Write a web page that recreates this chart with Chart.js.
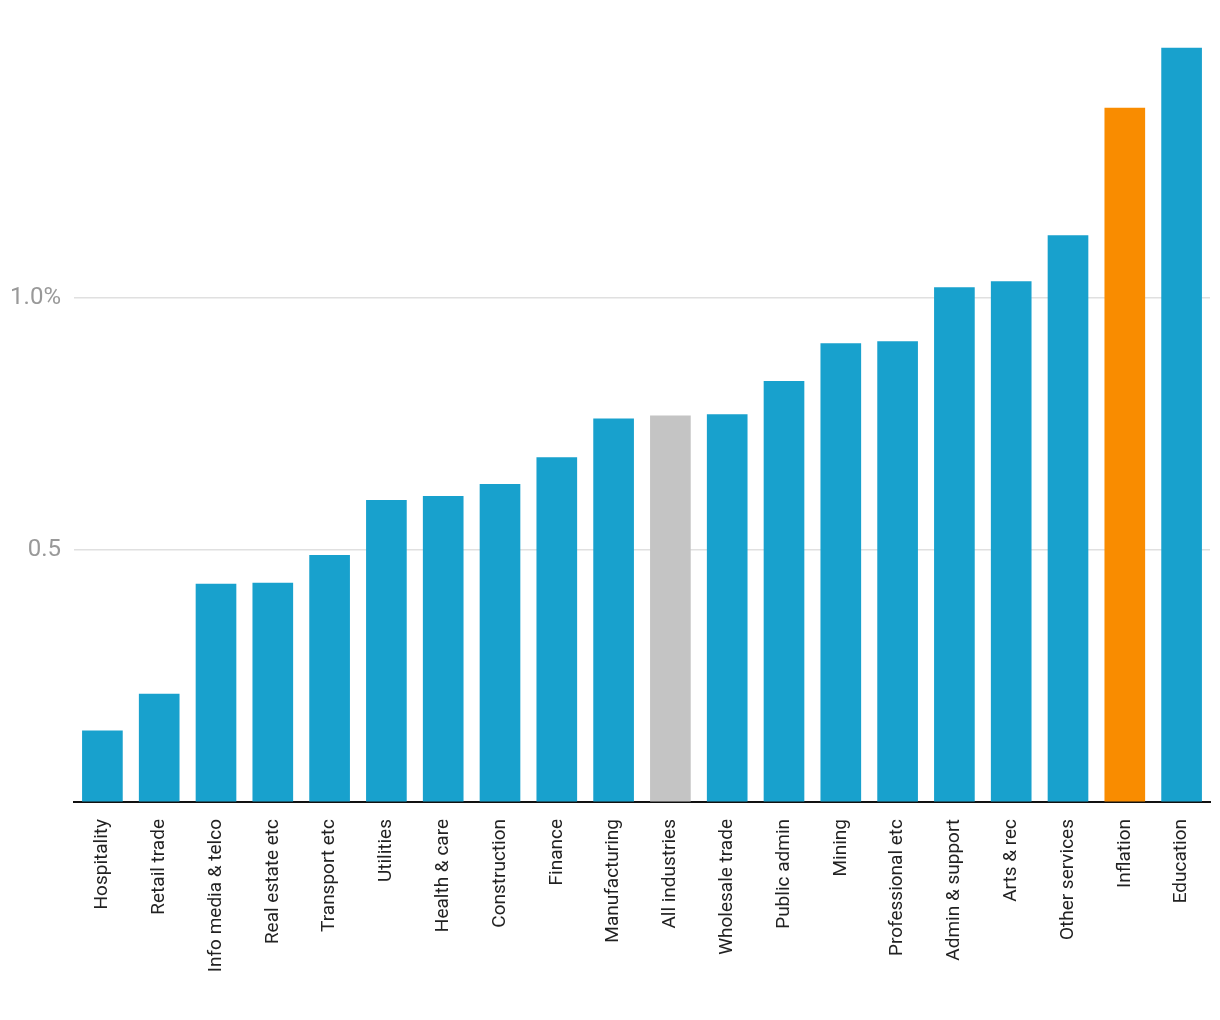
<!DOCTYPE html>
<html><head><meta charset="utf-8">
<script src="https://cdn.jsdelivr.net/npm/chart.js@4"></script>
<style>html,body{margin:0;padding:0;background:#fff}#wrap{width:1220px;height:1020px}</style>
</head><body><div id="wrap"><canvas id="c" width="1220" height="1020"></canvas></div>
<script>
const categories = ["Hospitality","Retail trade","Info media & telco","Real estate etc","Transport etc","Utilities","Health & care","Construction","Finance","Manufacturing","All industries","Wholesale trade","Public admin","Mining","Professional etc","Admin & support","Arts & rec","Other services","Inflation","Education"];
const values = [0.141,0.214,0.432,0.434,0.489,0.598,0.606,0.630,0.683,0.760,0.766,0.768,0.834,0.909,0.913,1.020,1.032,1.123,1.376,1.495];
const tickValues = [0, 0.5, 1.0];
const tickLabels = ["", "0.5", "1.0%"];
const colors = categories.map(c => c === "Inflation" ? "#f98c00" : (c === "All industries" ? "#c4c4c4" : "#18a1cd"));

new Chart(document.getElementById('c'), {
  type: 'bar',
  data: { labels: categories, datasets: [{ data: values, backgroundColor: colors, barThickness: 40 }] },
  options: {
    responsive: false, animation: false,
    layout: { padding: { top: 0, right: 10, left: 0, bottom: 0 } },
    plugins: { legend: { display: false }, tooltip: { enabled: false } },
    scales: {
      x: {
        grid: { display: false, drawTicks: false },
        border: { display: true, color: '#111', width: 2 },
        ticks: { minRotation: 90, maxRotation: 90, autoSkip: false, padding: 17, color: '#222', font: { family: 'Roboto', size: 19 } },
        afterFit: s => { s.height = 218; s.paddingLeft = 0; s.paddingRight = 0; }
      },
      y: {
        min: 0, max: 1.536,
        border: { display: false },
        grid: { color: '#e0e0e0', lineWidth: 1.5, drawTicks: false },
        afterBuildTicks: s => { s.ticks = tickValues.map(v => ({ value: v })); },
        ticks: { padding: 13, color: '#999', font: { family: 'Roboto', size: 24 },
          callback: (v, i) => tickLabels[tickValues.indexOf(v)] ?? '' },
        afterFit: s => { s.width = 74; }
      }
    }
  }
});
</script></body></html>
